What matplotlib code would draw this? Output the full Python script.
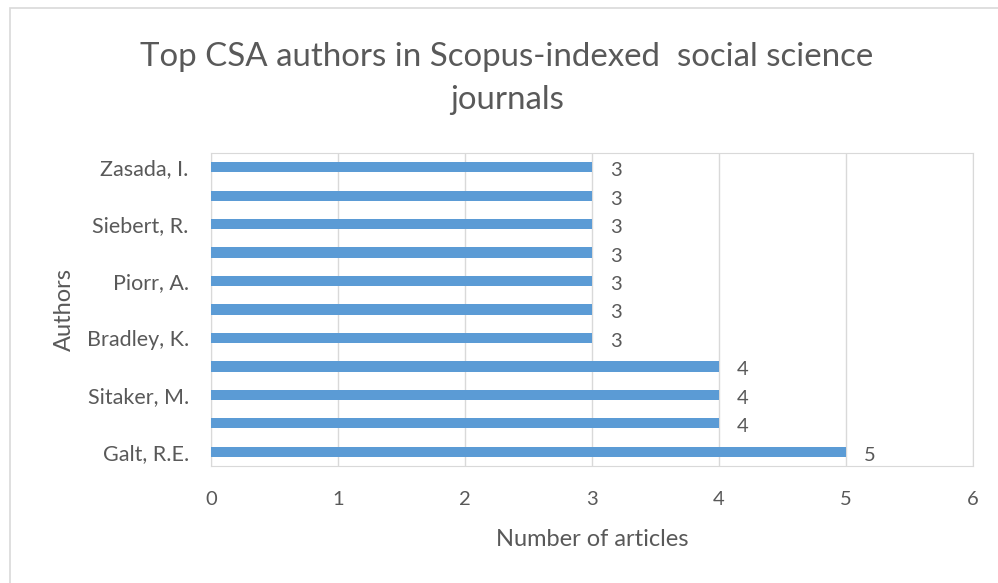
import matplotlib.pyplot as plt
from matplotlib.patches import Rectangle

# bottom to top, as drawn; unlabeled rows had their names skipped by the chart
authors = ["Galt, R.E.", "", "Sitaker, M.", "", "Bradley, K.", "", "Piorr, A.",
           "", "Siebert, R.", "", "Zasada, I."]
articles = [5, 4, 4, 4, 3, 3, 3, 3, 3, 3, 3]
x_ticks = [0, 1, 2, 3, 4, 5, 6]

plt.rcParams['font.family'] = ['Lato', 'DejaVu Sans']
txt = "#595959"
grid_col = "#d9d9d9"

fig = plt.figure(figsize=(9.98, 5.83), dpi=100)
fig.patches.append(Rectangle((10 / 998, -0.1), 1.1, 1 - 8 / 583 + 0.1,
                             transform=fig.transFigure, fill=False,
                             edgecolor=grid_col, linewidth=1.2))
ax = fig.add_axes([211 / 998, 1 - 466 / 583, 762 / 998, 313 / 583])

pos = list(range(len(authors)))
ax.barh(pos, articles, height=0.36, color="#5b9bd5", zorder=3)
for p, v in zip(pos, articles):
    ax.text(v + 0.14, p - 0.12, str(v), va="center", ha="left",
            fontsize=14.5, color=txt)

ax.set_xlim(0, 6)
ax.set_ylim(-0.5, len(authors) - 0.5)
ax.set_xticks(x_ticks)
ax.set_yticks(pos)
ax.set_yticklabels(authors)
ax.tick_params(axis="both", length=0, colors=txt, labelsize=14.5)
ax.tick_params(axis="y", labelsize=15.5, pad=16)
ax.tick_params(axis="x", pad=18)
ax.grid(axis="x", color=grid_col, linewidth=1, zorder=0)
for s in ax.spines.values():
    s.set_color(grid_col)

ax.set_xlabel("Number of articles", fontsize=17, color=txt, labelpad=15)
ax.set_ylabel("Authors", fontsize=17, color=txt, labelpad=8)
fig.text(0.508, 0.866, "Top CSA authors in Scopus-indexed  social science\njournals",
         ha="center", va="center", fontsize=23.8, color=txt, linespacing=1.55)

fig.savefig("out.png", dpi=100)
